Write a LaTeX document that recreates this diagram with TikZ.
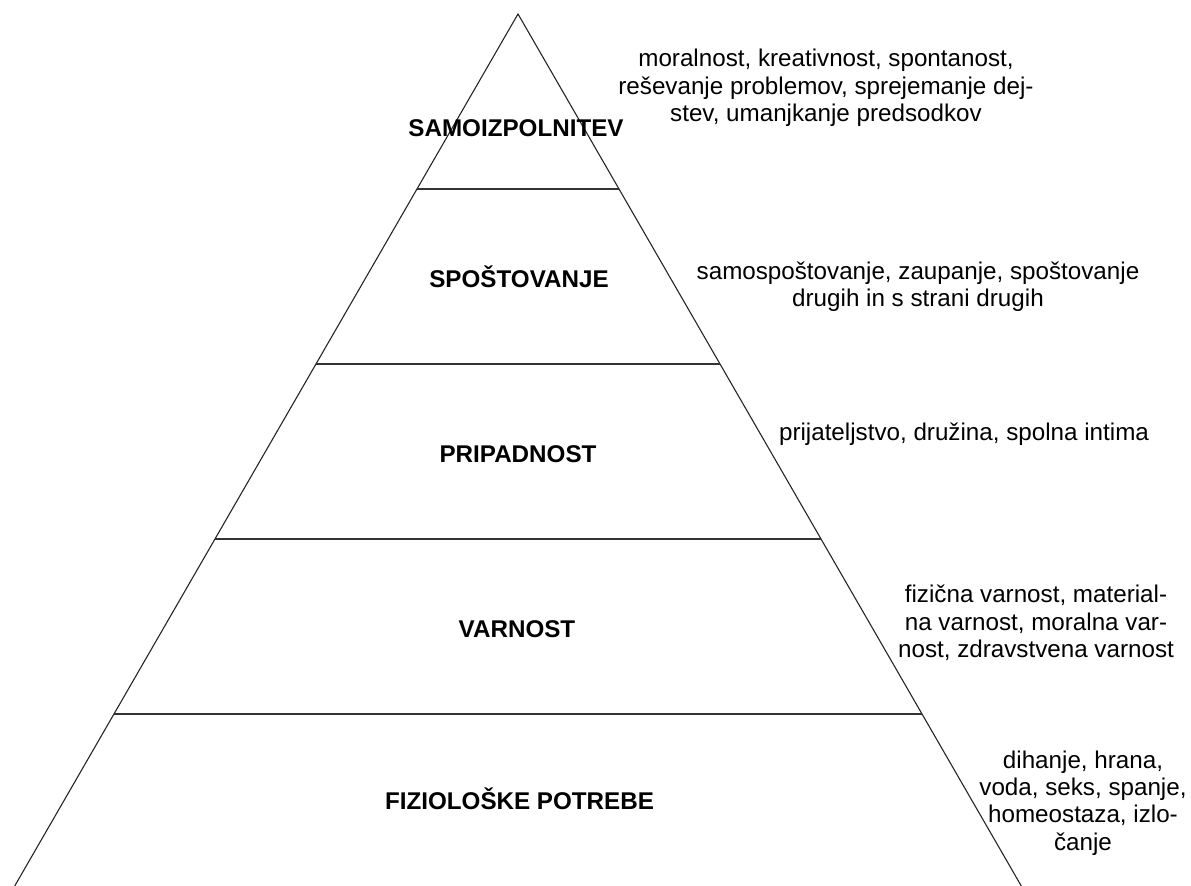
\documentclass[tikz,border=0pt]{standalone}
\usepackage{fontspec}
\setmainfont{Liberation Sans}
\usetikzlibrary{calc}

\begin{document}
\begin{tikzpicture}[x=0.5pt, y=-0.5pt,
    side/.style={line width=0.55pt, color=black!85},
    level/.style={line width=0.9pt, color=black!80},
    stage/.style={font=\fontsize{12.1}{13.65}\selectfont\bfseries, inner sep=0pt, anchor=base},
    needs/.style={font=\fontsize{12.1}{13.65}\selectfont, inner sep=0pt, align=center}]
    \useasboundingbox (0,0) rectangle (1191,886);

    % pyramid
    \coordinate (top) at (518,14);
    \coordinate (left) at (14.7,886);
    \coordinate (right) at (1021.3,886);
    \draw[side] (left) -- (top) -- (right);
    \foreach \t in {0.2007,0.4014,0.6021,0.8028}
      \draw[level] ($(top)!\t!(left)$) -- ($(top)!\t!(right)$);

    % stages
    \node[stage] (selfact) at (516,136.7) {SAMOIZPOLNITEV};
    \node[stage] (esteem) at (519,287.3) {SPOŠTOVANJE};
    \node[stage] (belong) at (518,463) {PRIPADNOST};
    \node[stage] (safety) at (517,638) {VARNOST};
    \node[stage] (physio) at (519.5,810) {FIZIOLOŠKE POTREBE};

    % needs of each stage
    \node[needs] (selfactneeds) at (826,88)
      {moralnost, kreativnost, spontanost,\\reševanje problemov, sprejemanje dej-\\stev, umanjkanje predsodkov};
    \node[needs] (esteemneeds) at (918,287)
      {samospoštovanje, zaupanje, spoštovanje\\drugih in s strani drugih};
    \node[needs] (belongneeds) at (964,434)
      {prijateljstvo, družina, spolna intima};
    \node[needs] (safetyneeds) at (1036,623)
      {fizična varnost, material-\\na varnost, moralna var-\\nost, zdravstvena varnost};
    \node[needs] (physioneeds) at (1083,803)
      {dihanje, hrana,\\voda, seks, spanje,\\homeostaza, izlo-\\čanje};
\end{tikzpicture}
\end{document}
